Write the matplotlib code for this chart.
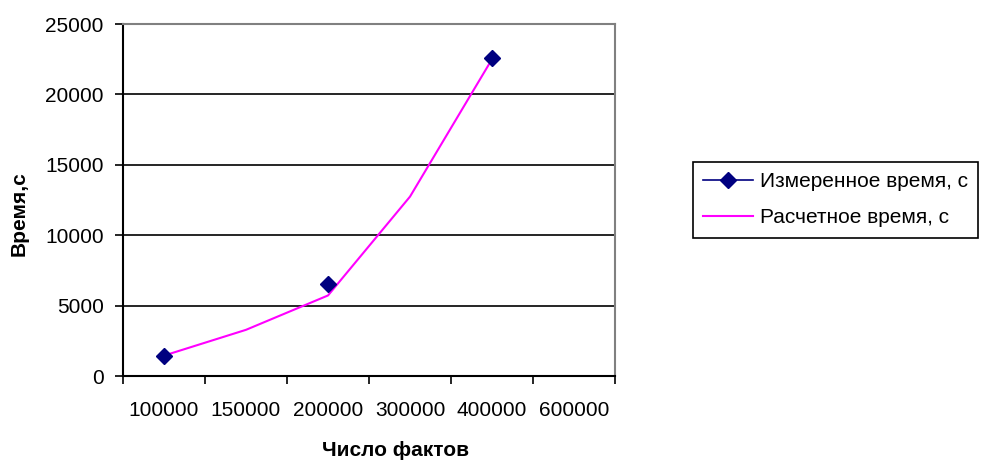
import matplotlib.pyplot as plt
import numpy as np

plt.rcParams['font.family'] = ['Liberation Sans', 'DejaVu Sans']

# data
categories = ['100000', '150000', '200000', '300000', '400000', '600000']
measured = [1420, np.nan, 6520, np.nan, 22560, np.nan]
calculated = [1450, 3280, 5720, 12740, 22500, np.nan]
y_ticks = [0, 5000, 10000, 15000, 20000, 25000]

fig = plt.figure(figsize=(9.86, 4.63), dpi=100)
ax = fig.add_axes([123 / 986, 1 - 376 / 463, 492 / 986, 352 / 463])

x = np.arange(len(categories))
ax.plot(x, measured, color='#000080', marker='D', markersize=8, lw=1.2,
        label='Измеренное время, с', zorder=3)
ax.plot(x, calculated, color='#ff00ff', lw=1.5, label='Расчетное время, с', zorder=2)

ax.set_xlim(-0.5, len(categories) - 0.5)
ax.set_ylim(0, 25000)

# gridlines
ax.set_yticks(y_ticks)
ax.yaxis.grid(True, color='black', lw=1.2)
ax.set_axisbelow(True)

# category axis: ticks between categories, labels centred
ax.set_xticks(np.arange(len(categories) + 1) - 0.5)
ax.set_xticklabels([])
ax.set_xticks(x, minor=True)
ax.set_xticklabels(categories, minor=True)
ax.tick_params(axis='x', which='major', direction='out', length=6, width=1.2, color='black')
ax.tick_params(axis='x', which='minor', length=0, pad=18, labelsize=15)
ax.tick_params(axis='y', direction='out', length=6, width=1.2, labelsize=15, pad=8)

for s in ['top', 'right']:
    ax.spines[s].set_color('#808080')
    ax.spines[s].set_linewidth(1.5)
for s in ['left', 'bottom']:
    ax.spines[s].set_color('black')
    ax.spines[s].set_linewidth(1.5)

fig.text(395 / 986, 1 - 450 / 463, 'Число фактов', fontsize=15, fontweight='bold',
         ha='center', va='center')
fig.text(19 / 986, 1 - 214 / 463, 'Время,с', fontsize=15, fontweight='bold',
         ha='center', va='center', rotation=90)

leg = fig.legend(loc='upper left', bbox_to_anchor=(693 / 986, 1 - 162 / 463),
                 fancybox=False, edgecolor='black', fontsize=15,
                 handlelength=2.4, borderaxespad=0, framealpha=1,
                 borderpad=0.5, labelspacing=0.8, handletextpad=0.3)
leg.get_frame().set_linewidth(1.2)

fig.savefig('out.png', dpi=100)
